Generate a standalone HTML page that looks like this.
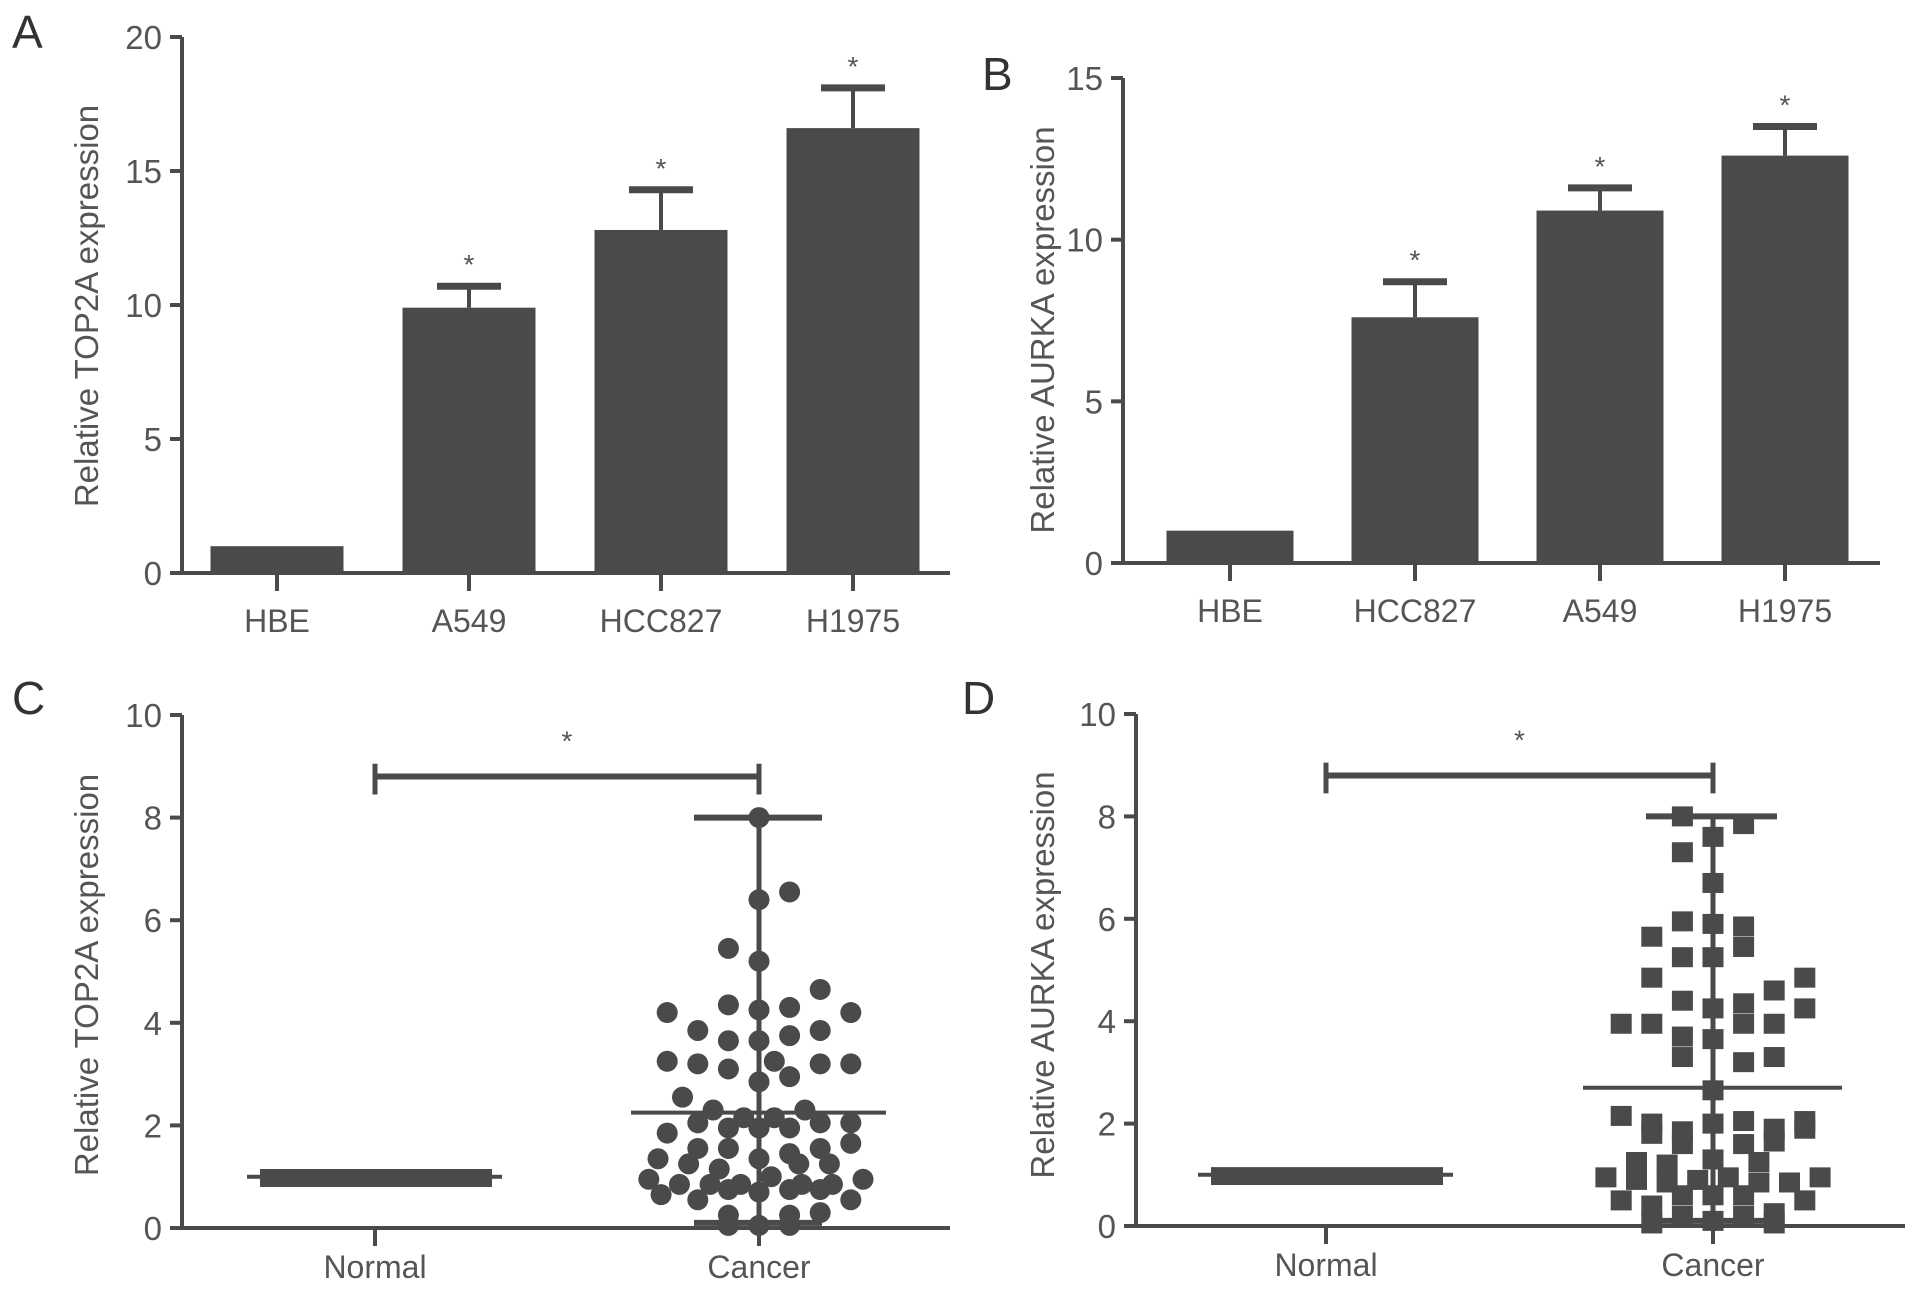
<!DOCTYPE html>
<html><head><meta charset="utf-8"><style>
body{margin:0;background:#fff}
svg text{font-family:"Liberation Sans",sans-serif;fill:#555}
</style></head><body>
<svg id="s" width="1913" height="1295" viewBox="0 0 1913 1295" xmlns="http://www.w3.org/2000/svg"></svg>
<script>
const catsA=["HBE","A549","HCC827","H1975"];
const valsA=[1.0,9.9,12.8,16.6];
const errA=[1.0,10.7,14.3,18.1];
const ticksA=[0,5,10,15,20];
const catsB=["HBE","HCC827","A549","H1975"];
const valsB=[1.0,7.6,10.9,12.6];
const errB=[1.0,8.7,11.6,13.5];
const ticksB=[0,5,10,15];
const ticksCD=[0,2,4,6,8,10];
const groupsCD=["Normal","Cancer"];
const cDots=[[0,8.0],[0,6.4],[1,6.55],[-1,5.45],[0,5.2],[2,4.65],[-3,4.2],[-1,4.35],[0,4.25],[1,4.3],[3,4.2],[-2,3.85],[-1,3.65],[0,3.65],[1,3.75],[2,3.85],[-3,3.25],[-2,3.2],[-1,3.1],[0.5,3.25],[2,3.2],[3,3.2],[0,2.85],[1,2.95],[-2.5,2.55],[-1.5,2.3],[1.5,2.3],[-0.5,2.15],[0.5,2.15],[-3,1.85],[-2,2.05],[-1,1.95],[0,1.95],[1,1.95],[2,2.05],[3,2.05],[3,1.65],[-2,1.55],[-1,1.55],[1,1.45],[2,1.55],[-3.3,1.35],[-2.3,1.25],[-1.3,1.15],[0,1.35],[1.3,1.25],[2.3,1.25],[-3.6,0.95],[-2.6,0.85],[-1.6,0.85],[-0.6,0.85],[0.4,1.0],[1.4,0.85],[2.4,0.85],[3.4,0.95],[-3.2,0.65],[-2,0.55],[-1,0.75],[0,0.7],[1,0.75],[2,0.75],[3,0.55],[-1,0.25],[1,0.25],[2,0.3],[0,0.05],[-1,0.05],[1,0.05]];
const dSq=[[-1,8.0],[1,7.85],[0,7.6],[-1,7.3],[0,6.7],[-1,5.95],[0,5.9],[1,5.85],[-2,5.65],[1,5.45],[-1,5.25],[0,5.25],[-2,4.85],[3,4.85],[2,4.6],[-1,4.4],[0,4.25],[1,4.35],[3,4.25],[-3,3.95],[-2,3.95],[1,3.95],[2,3.95],[-1,3.7],[0,3.65],[-1,3.3],[1,3.2],[2,3.3],[0,2.65],[-3,2.15],[-2,2.0],[-1,1.85],[0,2.0],[1,2.05],[2,1.9],[3,2.05],[-2,1.8],[-1,1.6],[1,1.6],[2,1.65],[3,1.9],[-2.5,1.25],[-1.5,1.2],[0,1.3],[1.5,1.25],[-3.5,0.95],[-2.5,0.9],[-1.5,0.85],[-0.5,0.9],[0.5,0.95],[1.5,0.85],[2.5,0.85],[3.5,0.95],[-3,0.5],[-2,0.4],[-1,0.6],[0,0.6],[1,0.6],[3,0.5],[-1,0.2],[0,0.1],[1,0.2],[2,0.25],[-2,0.05],[2,0.05]];
const meanC=2.25, meanD=2.7, maxCD=8, minCD=0.1, normalVal=1.0, sigY=8.8;

const S=document.getElementById('s');const NS="http://www.w3.org/2000/svg";const C="#4a4a4a";
function el(t,a,txt){const e=document.createElementNS(NS,t);for(const k in a)e.setAttribute(k,a[k]);if(txt!==undefined)e.textContent=txt;S.appendChild(e);return e;}
function line(x1,y1,x2,y2,w,name){const e=el('line',{x1,y1,x2,y2,stroke:C,'stroke-width':w});

return e;}
function txt(x,y,s,size,anchor,name,extra){const e=el('text',Object.assign({x,y,'font-size':size,'text-anchor':anchor},extra||{}),s);

return e;}

function axes(P){
 line(P.ax,P.y0-2,P.ax,P.yTop,4,'y-axis');
 line(P.ax-2,P.y0,P.xEnd,P.y0,4,'x-axis');
 P.ticks.forEach(t=>{const y=P.ys(t);line(P.ax-12,y,P.ax,y,4,'y-tick');txt(P.ax-20,y+12,String(t),33,'end','y-tick-label');});
 txt(P.ylx,P.yly,P.ylabel,33,'middle','y-axis-title',{transform:`rotate(-90 ${P.ylx} ${P.yly})`});
 txt(P.lx,P.ly,P.letter,46,'start','panel-label',{style:'fill:#333'});
}
function bars(P,cats,vals,errs,x0,step,bw){
 cats.forEach((c,i)=>{const cx=x0+i*step;
  const r=el('rect',{x:cx-bw/2,y:P.ys(vals[i]),width:bw,height:P.y0-P.ys(vals[i]),fill:C});
  
  
  line(cx,P.y0,cx,P.y0+18,4,'x-tick');
  txt(cx,P.y0+59,c,32,'middle','x-tick-label');
  if(errs[i]>vals[i]){line(cx,P.ys(vals[i]),cx,P.ys(errs[i]),4,'error-bar');
   line(cx-32,P.ys(errs[i]),cx+32,P.ys(errs[i]),7,'error-cap');
   txt(cx,P.ys(errs[i])-12,'*',28,'middle','significance-star');}
 });
}
// Panel A
const A={ax:182,y0:573,yTop:37,xEnd:950,letter:'A',lx:12,ly:48,ylx:98,yly:306,ylabel:'Relative TOP2A expression',ticks:ticksA};
A.ys=v=>A.y0-v*(A.y0-37)/20;
axes(A);bars(A,catsA,valsA,errA,277,192,133);
// Panel B
const B={ax:1123,y0:563,yTop:78,xEnd:1880,letter:'B',lx:982,ly:90,ylx:1054,yly:330,ylabel:'Relative AURKA expression',ticks:ticksB};
B.ys=v=>B.y0-v*(B.y0-78)/15;
axes(B);bars(B,catsB,valsB,errB,1230,185,127);

function scatter(P,data,xs,square,mean,meanL,meanR,capL,capR){
 axes(P);
 groupsCD.forEach((g,i)=>{line(xs[i],P.y0,xs[i],P.y0+18,4,'x-tick');txt(xs[i],P.y0+50,g,32,'middle','x-tick-label');});
 const nx=xs[0];
 const r=el('rect',{x:nx-115,y:P.ys(normalVal+0.15),width:232,height:P.ys(normalVal-0.2)-P.ys(normalVal+0.15),fill:C});
 
 
 line(nx-128,P.ys(normalVal),nx+127,P.ys(normalVal),4,'normal-mean-line');
 line(xs[0],P.ys(sigY),xs[1],P.ys(sigY),6,'significance-bar');
 line(xs[0],P.ys(sigY-0.35),xs[0],P.ys(sigY+0.25),5,'significance-bar-end');
 line(xs[1],P.ys(sigY-0.35),xs[1],P.ys(sigY+0.25),5,'significance-bar-end');
 txt((xs[0]+xs[1])/2,P.ys(sigY+0.7)+10,'*',28,'middle','significance-star');
 const cx=xs[1];
 line(cx,P.ys(minCD),cx,P.ys(maxCD),5,'cancer-range-line');
 line(capL,P.ys(maxCD),capR,P.ys(maxCD),6,'cancer-max-cap');
 line(capL,P.ys(minCD),capR,P.ys(minCD),6,'cancer-min-cap');
 data.forEach(d=>{const x=cx+d[0]*30.6,y=P.ys(d[1]);let e;
  if(square)e=el('rect',{x:x-10.5,y:y-10,width:21,height:20,fill:C});
  else e=el('circle',{cx:x,cy:y,r:10.5,fill:C});
  
  });
 line(meanL,P.ys(mean),meanR,P.ys(mean),4,'cancer-mean-line');
}
const Cp={ax:182,y0:1228,yTop:715,xEnd:950,letter:'C',lx:12,ly:714,ylx:98,yly:975,ylabel:'Relative TOP2A expression',ticks:ticksCD};
Cp.ys=v=>Cp.y0-v*(Cp.y0-715)/10;
scatter(Cp,cDots,[375,759],false,meanC,631,886,694,822);
const Dp={ax:1136,y0:1226,yTop:714,xEnd:1905,letter:'D',lx:962,ly:714,ylx:1054,yly:975,ylabel:'Relative AURKA expression',ticks:ticksCD};
Dp.ys=v=>Dp.y0-v*(Dp.y0-714)/10;
scatter(Dp,dSq,[1326,1713],true,meanD,1583,1842,1646,1777);
</script>
</body></html>
